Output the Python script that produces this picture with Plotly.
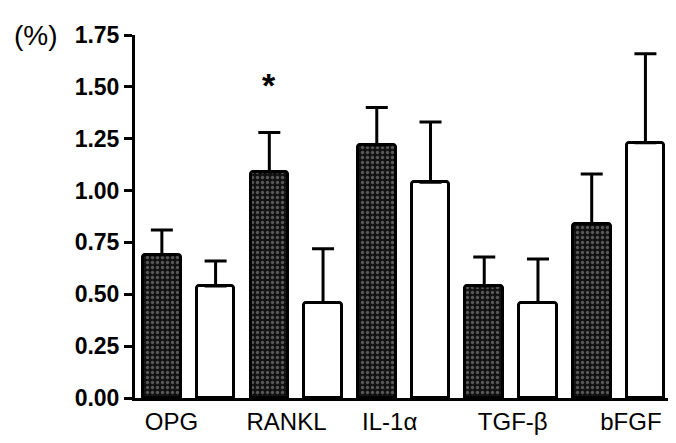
import plotly.graph_objects as go

categories = ["OPG", "RANKL", "IL-1α", "TGF-β", "bFGF"]
filled_vals = [0.69, 1.09, 1.22, 0.54, 0.84]
filled_err = [0.12, 0.19, 0.18, 0.14, 0.24]
open_vals = [0.54, 0.46, 1.04, 0.46, 1.23]
open_err = [0.12, 0.26, 0.29, 0.21, 0.43]
y_ticks = [0.0, 0.25, 0.5, 0.75, 1.0, 1.25, 1.5, 1.75]
y_ticktext = ["0.00", "0.25", "0.50", "0.75", "1.00", "1.25", "1.50", "1.75"]
star_index = 1  # RANKL filled bar

n = len(categories)
x_filled = [2 * i for i in range(n)]
x_open = [2 * i + 1 for i in range(n)]
label_offsets = [0.18, 0.32, 0.24, 0.53, 0.73]
label_pos = [2 * i + label_offsets[i] for i in range(n)]

fig = go.Figure()
fig.add_trace(go.Bar(
    x=x_filled, y=filled_vals, width=0.7,
    marker=dict(color="#111111", line=dict(color="black", width=3),
                pattern=dict(shape=".", fgcolor="#a0a0a0", bgcolor="#111111",
                             size=5, solidity=0.35)),
    error_y=dict(type="data", symmetric=False, array=filled_err,
                 arrayminus=[0] * n, color="black", thickness=3, width=11),
    showlegend=False,
))
fig.add_trace(go.Bar(
    x=x_open, y=open_vals, width=0.7,
    marker=dict(color="white", line=dict(color="black", width=3)),
    error_y=dict(type="data", symmetric=False, array=open_err,
                 arrayminus=[0] * n, color="black", thickness=3, width=11),
    showlegend=False,
))

fig.add_annotation(
    x=x_filled[star_index], y=filled_vals[star_index] + filled_err[star_index],
    text="<b>*</b>", showarrow=False, yanchor="bottom", yshift=26,
    font=dict(size=34, color="black", family="Liberation Sans"),
)
fig.add_annotation(
    xref="paper", yref="paper", x=-0.23, y=1.0, xanchor="left", yanchor="middle",
    text="(%)", showarrow=False,
    font=dict(size=28, color="black", family="Liberation Sans"),
)

fig.update_layout(
    width=660, height=427,
    margin=dict(l=127, r=0, t=27, b=33),
    plot_bgcolor="white", paper_bgcolor="white",
    bargap=0, barmode="overlay", barcornerradius=3,
    xaxis=dict(range=[-0.5, 9.42], showgrid=False, zeroline=False,
               showline=True, linecolor="black", linewidth=3,
               tickmode="array", tickvals=label_pos, ticktext=categories,
               ticks="", tickfont=dict(size=24, color="black", family="Liberation Sans")),
    yaxis=dict(range=[0, 1.75], showgrid=False, zeroline=False,
               showline=True, linecolor="black", linewidth=3,
               tickmode="array", tickvals=y_ticks, ticktext=[f"<b>{t}</b>" for t in y_ticktext],
               ticks="outside", ticklen=8, tickwidth=3, tickcolor="black",
               tickfont=dict(size=23, color="black", family="Liberation Sans")),
)

fig.write_html("out.html")
